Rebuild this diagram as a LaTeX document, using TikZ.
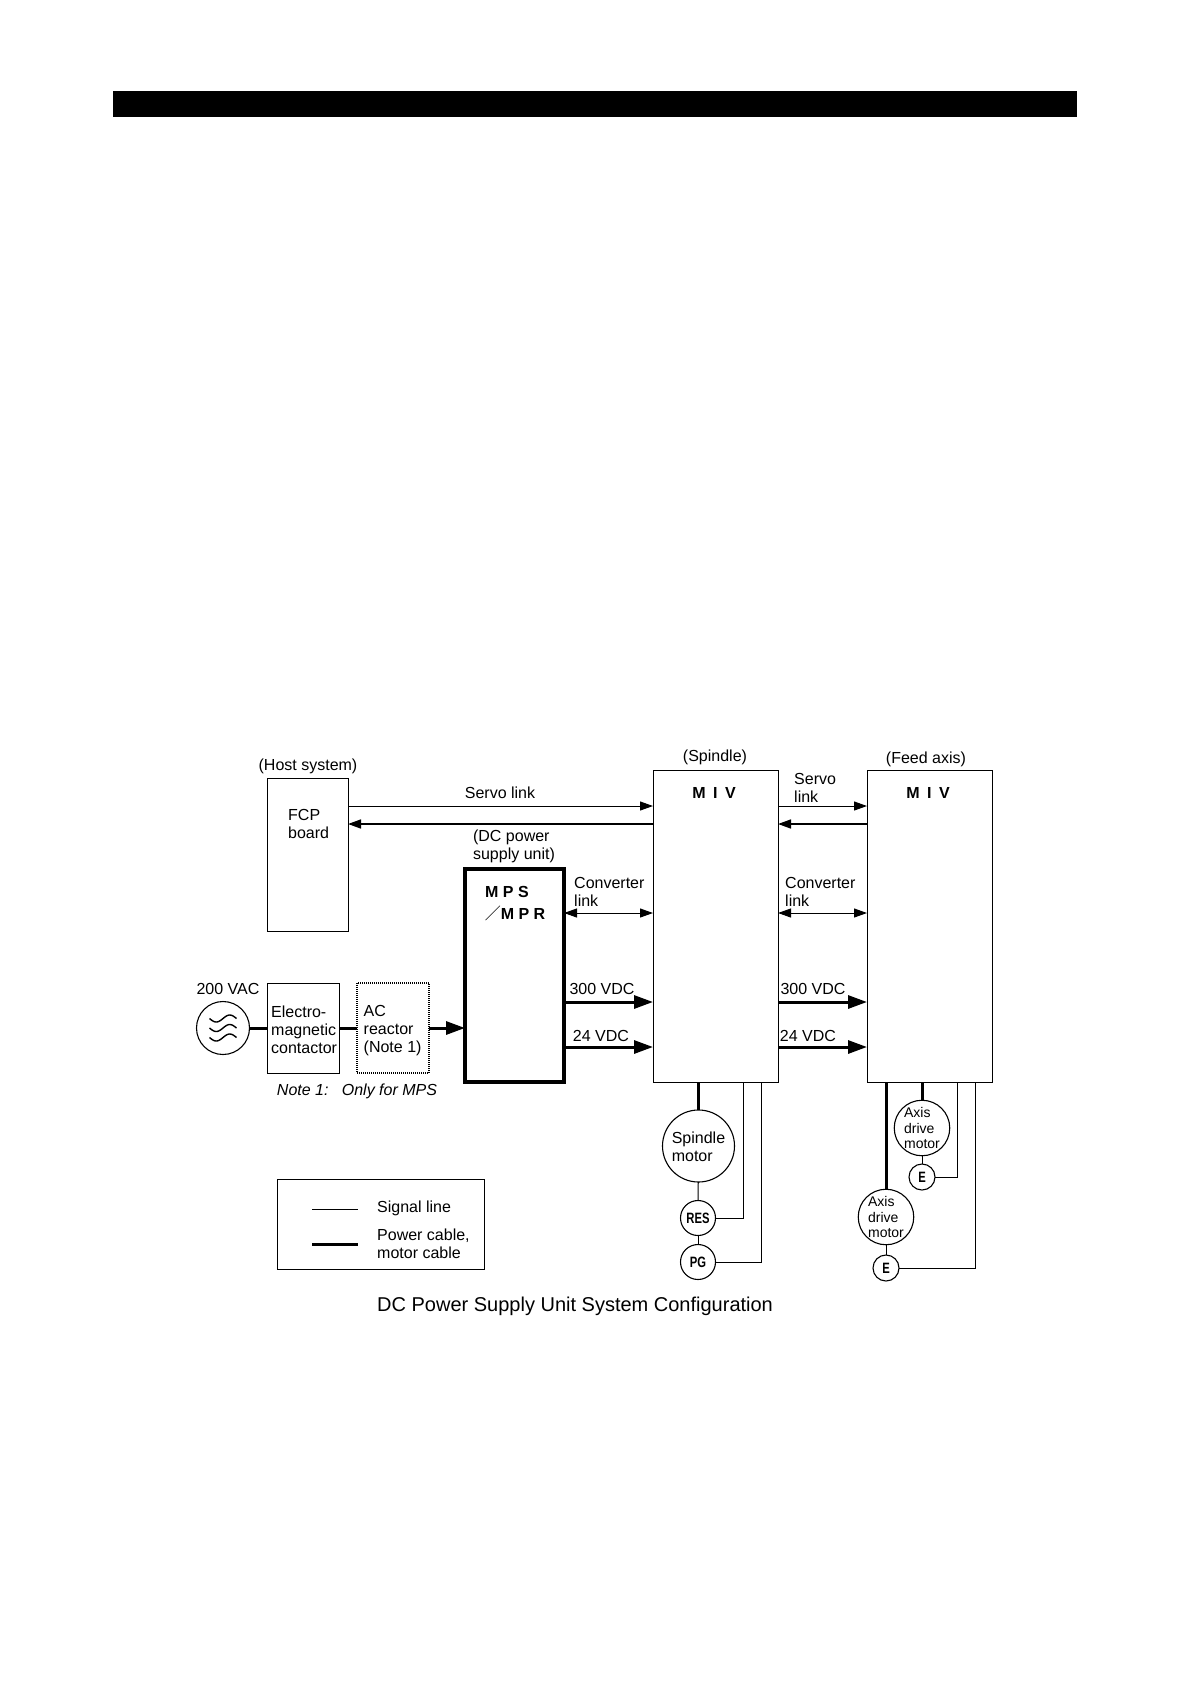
\documentclass[tikz,border=0pt]{standalone}
\usepackage{fontspec}
\setmainfont{Liberation Sans}
\newfontfamily\narrowfont[FakeStretch=0.75]{Liberation Sans}
\newfontfamily\cjk{Noto Sans CJK JP}
\usetikzlibrary{arrows.meta}
\newcommand{\tx}[1]{\fontsize{#1}{#1}\selectfont}
\tikzset{
  block/.style={draw, line width=1pt, inner sep=0pt, outer sep=0pt, align=left, font=\tx{16}},
  txt/.style={inner sep=0pt, align=left, font=\tx{16}},
  motor/.style={draw, circle, line width=1.1pt, inner sep=0pt, outer sep=0pt, align=left},
  sigline/.style={line width=1pt},
  pwrline/.style={line width=3pt},
  sigarrow/.style={sigline, -{Triangle[length=13pt,width=9pt]}},
  sigback/.style={line width=1.6pt, -{Triangle[length=13pt,width=9pt]}},
  sigboth/.style={sigline, {Triangle[length=13pt,width=9pt]}-{Triangle[length=13pt,width=9pt]}},
  pwrarrow/.style={pwrline, -{Triangle[length=19pt,width=13pt]}}
}
\begin{document}
\begin{tikzpicture}[x=1pt, y=-1pt]
\useasboundingbox (0,0) rectangle (1190,1684);
\fill (113,91) rectangle (1077,117);
% boxes
\node[block, minimum width=81pt, minimum height=153pt] (fcp) at (307.5,854.5) {};
\node[block, minimum width=72pt, minimum height=90pt] (contactor) at (303,1028) {};
\node[block, densely dotted, line width=1.6pt, minimum width=72pt, minimum height=90pt] (reactor) at (393,1028) {};
\node[block, line width=4.5pt, minimum width=99pt, minimum height=213pt] (mps) at (514.5,975.5) {};
\node[block, minimum width=125pt, minimum height=312pt] (spindle) at (715.5,926) {};
\node[block, minimum width=125pt, minimum height=312pt] (feed) at (929.5,926.5) {};
% motors
\node[motor, minimum size=53pt] (ac) at (223,1028) {};
\foreach \w in {-9.5,0,9.5}
  \draw[line width=1.4pt, shift={(223,1028+\w)}, domain=-13.5:13.5, samples=30, smooth] plot (\x,{-3.5*sin(\x*360/27)});
\node[motor, minimum size=72pt, font=\tx{16}] (spmotor) at (698.5,1146) {\rule{0pt}{14pt}Spindle\\[2pt]motor};
\node[motor, minimum size=35pt, font=\narrowfont\bfseries\tx{15}] (res) at (698,1218) {RES};
\node[motor, minimum size=35pt, font=\narrowfont\bfseries\tx{15}] (pg) at (698,1262) {PG};
\node[motor, minimum size=55.5pt, font=\tx{14}] (axisa) at (922,1128) {Axis\\[1.5pt]drive\\[1.5pt]motor};
\node[motor, minimum size=26pt, font=\narrowfont\bfseries\tx{15}] (enca) at (922,1177) {E};
\node[motor, minimum size=55.5pt, font=\tx{14}] (axisb) at (886,1217) {Axis\\[1.5pt]drive\\[1.5pt]motor};
\node[motor, minimum size=26pt, font=\narrowfont\bfseries\tx{15}] (encb) at (886,1268) {E};
% levels of the links
\coordinate (servoy) at (0,806);
\coordinate (backy) at (0,824);
\coordinate (convy) at (0,913);
\coordinate (hvy) at (0,1002);
\coordinate (lvy) at (0,1047);
% free ends on the bottom of the units
\coordinate (resend) at (743,1082);
\coordinate (pgend) at (761,1082);
\coordinate (encaend) at (957,1083);
\coordinate (encbend) at (975,1083);
% links
\draw[sigarrow] (fcp.east |- servoy) -- (spindle.west |- servoy);
\draw[sigback] (spindle.west |- backy) -- (fcp.east |- backy);
\draw[sigarrow] (spindle.east |- servoy) -- (feed.west |- servoy);
\draw[sigback] (feed.west |- backy) -- (spindle.east |- backy);
\draw[sigboth] (mps.east |- convy) -- (spindle.west |- convy);
\draw[sigboth] (spindle.east |- convy) -- (feed.west |- convy);
\draw[pwrarrow] (mps.east |- hvy) -- (spindle.west |- hvy);
\draw[pwrarrow] (mps.east |- lvy) -- (spindle.west |- lvy);
\draw[pwrarrow] (spindle.east |- hvy) -- (feed.west |- hvy);
\draw[pwrarrow] (spindle.east |- lvy) -- (feed.west |- lvy);
% mains
\draw[pwrline] (ac) -- (contactor);
\draw[pwrline] (contactor) -- (reactor);
\draw[pwrarrow] (reactor) -- (reactor -| mps.west);
% motors and encoders
\draw[pwrline] (spindle.south -| spmotor) -- (spmotor);
\draw[sigline] (spmotor) -- (res);
\draw[sigline] (res) -- (pg);
\draw[sigline] (res.east) -| (resend);
\draw[sigline] (pg.east) -| (pgend);
\draw[pwrline] (feed.south -| axisa) -- (axisa);
\draw[pwrline] (feed.south -| axisb) -- (axisb);
\draw[sigline] (axisa) -- (enca);
\draw[sigline] (axisb) -- (encb);
\draw[sigline] (enca.east) -| (encaend);
\draw[sigline] (encb.east) -| (encbend);
% labels
\node[txt] (hostlab) at (308,766) {(Host system)};
\node[txt, anchor=west] (fcplab) at (288,824) {FCP\\[2pt]board};
\node[txt, anchor=west] (contlab) at (271,1030) {Electro-\\[2pt]magnetic\\[2pt]contactor};
\node[txt, anchor=west] (reaclab) at (363.5,1030.5) {AC\\[2pt]reactor\\[2pt](Note 1)};
\node[txt] (servolab) at (500,793) {Servo link};
\node[txt, anchor=west] (servolabb) at (794,787.5) {Servo\\[2pt]link};
\node[txt] (dclab) at (514,846.5) {(DC power\\[2pt]supply unit)};
\node[txt] (spindlelab) at (715,757) {(Spindle)};
\node[txt] (feedlab) at (926,759) {(Feed axis)};
\node[txt, font=\bfseries\tx{16}] (mpslab) at (507,892) {M P S};
\node[txt, font=\bfseries\tx{16}] (mprlab) at (515,913) {{\cjk\mdseries ／}M P R};
\node[txt, font=\bfseries\tx{16}] (mivlab) at (714,793) {M\hspace{7.5pt}I\hspace{7.5pt}V};
\node[txt, font=\bfseries\tx{16}] (mivlabb) at (928,793) {M\hspace{7.5pt}I\hspace{7.5pt}V};
\node[txt, anchor=west] (convlab) at (574,892) {Converter\\[2pt]link};
\node[txt, anchor=west] (convlabb) at (785,892) {Converter\\[2pt]link};
\node[txt] (hvlab) at (602,989) {300 VDC};
\node[txt] (lvlab) at (601,1036) {24 VDC};
\node[txt] (hvlabb) at (813,989) {300 VDC};
\node[txt] (lvlabb) at (808,1036) {24 VDC};
\node[txt] (aclab) at (228,989) {200 VAC};
\node[txt, font=\itshape\tx{16}] (notelab) at (357,1091) {Note 1:\ \ \ Only for MPS};
% legend
\node[block, minimum width=207pt, minimum height=90pt] (legend) at (380.5,1224) {};
\coordinate (siga) at (312,1209);
\coordinate (sigb) at (358,1209);
\coordinate (pwra) at (312,1244);
\coordinate (pwrb) at (358,1244);
\draw[sigline] (siga) -- (sigb);
\draw[pwrline] (pwra) -- (pwrb);
\node[txt, anchor=west] (siglab) at (377,1208.5) {Signal line};
\node[txt, anchor=west] (pwrlab) at (377,1243.5) {Power cable,\\[2pt]motor cable};
\node[txt, anchor=west, font=\tx{20}] (caption) at (377,1306) {DC Power Supply Unit System Configuration};
\end{tikzpicture}
\end{document}
